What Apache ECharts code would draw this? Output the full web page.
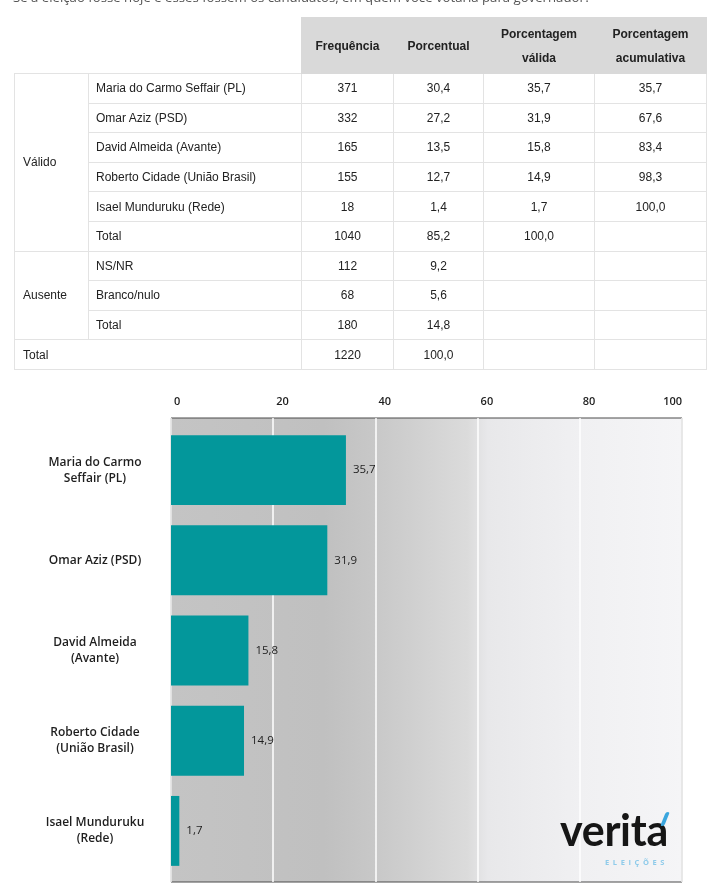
<!DOCTYPE html>
<html>
<head>
<meta charset="utf-8">
<script src="https://cdn.jsdelivr.net/npm/echarts@6.0.0/dist/echarts.min.js"></script>
<style>
  html, body { margin:0; padding:0; background:#fff; width:720px; height:893px; overflow:hidden; position:relative; }
  #chart { position:absolute; left:0; top:0; width:720px; height:893px; }
  #title { position:absolute; left:13px; top:-10px; font-family:'Open Sans', sans-serif; font-size:13.2px; line-height:15px; color:#555; white-space:nowrap; z-index:2; }
  #tbl { position:absolute; left:14px; top:17px; border-collapse:collapse; table-layout:fixed; font-family:'Liberation Sans', Arial, sans-serif; font-size:12px; color:#222; z-index:2; background:transparent; }
  #tbl td { border:1px solid #e3e3e3; height:28.6px; padding:0; text-align:center; background:#fff; }
  #tbl td.grp { text-align:left; padding-left:8px; }
  #tbl td.name { text-align:left; padding-left:7px; }
  #tbl th { height:55px; background:#d9d9d9; font-weight:bold; line-height:24px; border:1px solid #d9d9d9; padding:0; }
  #tbl th.blank { background:transparent; border:none; }
  .logo-w { position:absolute; left:560px; top:810px; z-index:2; font-family:'Lato', sans-serif; font-weight:700; font-size:43px; color:#161616; letter-spacing:-0.3px; line-height:40px; white-space:nowrap; }
  .logo-acc { position:absolute; left:663px; top:812px; z-index:3; width:3.5px; height:14px; background:#3aa6de; transform:skewX(-22deg); border-radius:2px; }
  .logo-s { position:absolute; left:605px; top:857px; z-index:2; font-family:'Open Sans', sans-serif; font-weight:bold; font-size:7.5px; line-height:10px; letter-spacing:3.6px; color:#8fcbea; white-space:nowrap; }
</style>
</head>
<body>
<div id="chart"></div>
<div id="title">Se a eleição fosse hoje e esses fossem os candidatos, em quem você votaria para governador?</div>
<table id="tbl">
  <colgroup><col style="width:74px"><col style="width:213px"><col style="width:92px"><col style="width:90px"><col style="width:111px"><col style="width:112px"></colgroup>
  <thead id="thead"></thead>
  <tbody id="tbody"></tbody>
</table>
<div class="logo-w">verita</div><div class="logo-acc"></div><div class="logo-s">ELEIÇÕES</div>
<script>
// ---------- Table data ----------
const tableHeaders = ['Frequência', 'Porcentual', 'Porcentagem<br>válida', 'Porcentagem<br>acumulativa'];
const validLabel = 'Válido';
const validNames = ['Maria do Carmo Seffair (PL)', 'Omar Aziz (PSD)', 'David Almeida (Avante)', 'Roberto Cidade (União Brasil)', 'Isael Munduruku (Rede)', 'Total'];
const validFreq = [371, 332, 165, 155, 18, 1040];
const validPct = [30.4, 27.2, 13.5, 12.7, 1.4, 85.2];
const validValidPct = [35.7, 31.9, 15.8, 14.9, 1.7, 100.0];
const validCumPct = [35.7, 67.6, 83.4, 98.3, 100.0, null];
const absentLabel = 'Ausente';
const absentNames = ['NS/NR', 'Branco/nulo', 'Total'];
const absentFreq = [112, 68, 180];
const absentPct = [9.2, 5.6, 14.8];
const totalLabel = 'Total';
const totalFreq = [1220];
const totalPct = [100.0];

// ---------- Chart data ----------
const candidates = ['Maria do Carmo\nSeffair (PL)', 'Omar Aziz (PSD)', 'David Almeida\n(Avante)', 'Roberto Cidade\n(União Brasil)', 'Isael Munduruku\n(Rede)'];
const validShare = [35.7, 31.9, 15.8, 14.9, 1.7];
const xTicks = [0, 20, 40, 60, 80, 100];

const fmt = v => (v === null || v === undefined) ? '' : v.toFixed(1).replace('.', ',');

// build table
(function(){
  let h = '<tr><th class="blank" colspan="2"></th>';
  tableHeaders.forEach(t => { h += '<th>' + t + '</th>'; });
  h += '</tr>';
  document.getElementById('thead').innerHTML = h;
  let b = '';
  validNames.forEach((n, i) => {
    b += '<tr>';
    if (i === 0) b += '<td class="grp" rowspan="' + validNames.length + '">' + validLabel + '</td>';
    b += '<td class="name">' + n + '</td><td>' + validFreq[i] + '</td><td>' + fmt(validPct[i]) + '</td><td>' + fmt(validValidPct[i]) + '</td><td>' + fmt(validCumPct[i]) + '</td></tr>';
  });
  absentNames.forEach((n, i) => {
    b += '<tr>';
    if (i === 0) b += '<td class="grp" rowspan="' + absentNames.length + '">' + absentLabel + '</td>';
    b += '<td class="name">' + n + '</td><td>' + absentFreq[i] + '</td><td>' + fmt(absentPct[i]) + '</td><td></td><td></td></tr>';
  });
  b += '<tr><td class="grp" colspan="2">' + totalLabel + '</td><td>' + totalFreq[0] + '</td><td>' + fmt(totalPct[0]) + '</td><td></td><td></td></tr>';
  document.getElementById('tbody').innerHTML = b;
})();

// chart
const xMin = xTicks[0], xMax = xTicks[xTicks.length - 1], xStep = xTicks[1] - xTicks[0];
const chart = echarts.init(document.getElementById('chart'), null, { renderer: 'canvas' });
chart.setOption({
  animation: false,
  grid: [
    {
      // frame: background, border, tick labels and gridlines
      left: 171, right: 38, top: 418, bottom: 11,
      show: true,
      borderColor: '#4a4a4a', borderWidth: 1,
      backgroundColor: {
        type: 'linear', x: 0, y: 0, x2: 1, y2: 0,
        colorStops: [
          { offset: 0, color: '#c4c4c4' },
          { offset: 0.3, color: '#c0c0c0' },
          { offset: 0.4, color: '#c8c8c8' },
          { offset: 0.58, color: '#dbdbdb' },
          { offset: 0.62, color: '#e8e8ea' },
          { offset: 0.8, color: '#f0f0f2' },
          { offset: 1, color: '#f5f5f7' }
        ]
      }
    },
    {
      // bar area as placed in the reference
      left: 171, right: 59, top: 425, bottom: 17
    }
  ],
  xAxis: [
    {
      gridIndex: 0,
      type: 'value',
      position: 'top',
      min: xMin, max: xMax, interval: xStep,
      axisLine: { show: false },
      axisTick: { show: false },
      splitLine: { show: true, lineStyle: { color: '#ffffff', width: 1.5 } },
      axisLabel: {
        margin: 11,
        align: 'left',
        alignMaxLabel: 'right',
        padding: [0, 0, 0, 3],
        fontFamily: 'Open Sans', fontWeight: 600, fontSize: 11, color: '#1e1e1e'
      }
    },
    {
      gridIndex: 1,
      type: 'value',
      min: xMin, max: xMax, interval: xStep,
      show: false
    }
  ],
  yAxis: [
    {
      gridIndex: 0,
      type: 'category',
      data: candidates,
      inverse: true,
      show: false
    },
    {
      gridIndex: 1,
      type: 'category',
      data: candidates,
      inverse: true,
      axisLine: { show: false },
      axisTick: { show: false },
      splitLine: { show: false },
      axisLabel: {
        margin: 76,
        align: 'center',
        fontFamily: 'Open Sans', fontWeight: 600, fontSize: 12, lineHeight: 16, color: '#1e1e1e'
      }
    }
  ],
  series: [{
    type: 'bar',
    xAxisIndex: 1,
    yAxisIndex: 1,
    data: validShare,
    barWidth: '77.5%',
    itemStyle: { color: '#03979b' },
    label: {
      show: true, position: 'right', distance: 7,
      fontFamily: 'Open Sans', fontSize: 11.5, color: '#1e1e1e',
      formatter: p => fmt(p.value)
    }
  }]
});
</script>
</body>
</html>
